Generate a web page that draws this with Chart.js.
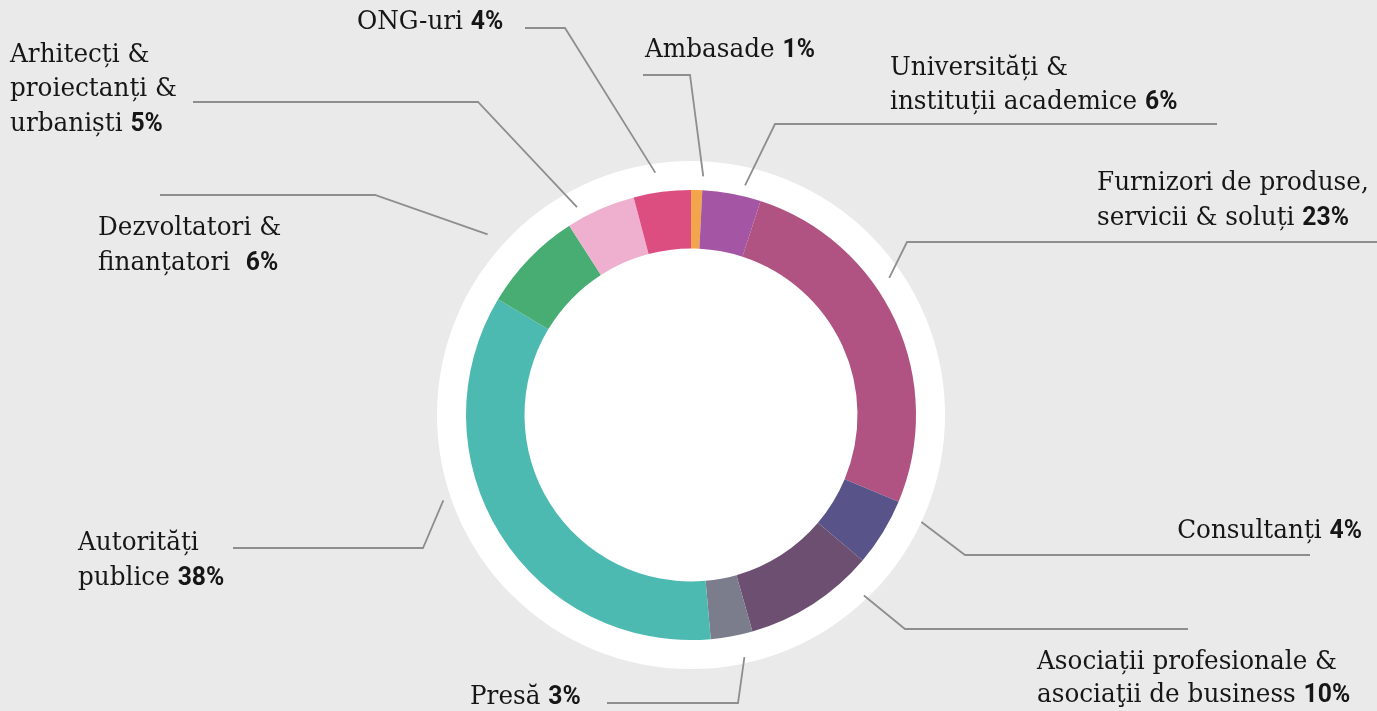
<!DOCTYPE html>
<html>
<head>
<meta charset="utf-8">
<script src="https://cdn.jsdelivr.net/npm/chart.js@4"></script>
<style>
  html, body { margin: 0; padding: 0; background: #eaeaea; }
  #wrap { width: 1377px; height: 711px; position: relative; }
</style>
</head>
<body>
<div id="wrap"><canvas id="stakeChart"></canvas></div>
<script>
// slice shares as drawn in the picture (clockwise from the top)
const categories = ['Ambasade', 'Universități & instituții academice', 'Furnizori de produse, servicii & soluți',
  'Consultanți', 'Asociații profesionale & asociații de business', 'Presă', 'Autorități publice',
  'Dezvoltatori & finanțatori', 'Arhitecți & proiectanți & urbaniști', 'ONG-uri'];
const sliceShares = [0.8, 4.2, 26.3, 4.9, 9.4, 3.0, 35.0, 7.3, 5.0, 4.1];
// percentages printed in the labels
const labelPercents = ['1%', '6%', '23%', '4%', '10%', '3%', '38%', '6%', '5%', '4%'];
const labelLines = [
  ['Ambasade '],
  ['Universități &', 'instituții academice '],
  ['Furnizori de produse,', 'servicii & soluți '],
  ['Consultanți '],
  ['Asociații profesionale &', 'asociaţii de business '],
  ['Presă '],
  ['Autorități', 'publice '],
  ['Dezvoltatori &', 'finanțatori  '],
  ['Arhitecți &', 'proiectanți &', 'urbaniști '],
  ['ONG-uri ']
];
const sliceColors = ['#f2a54a', '#a456a4', '#b05282', '#58548a', '#6d4f72', '#7b7c8c',
  '#4dbab1', '#48ad72', '#efafcf', '#dc4d80'];

// label placement: text anchor, line centres, leader elbow/end, start tweak
const labelLayout = [
  { x: 645, ys: [50], elbow: [690, 75], end: [643, 75], dAng: 1.5, dr: 14 },
  { x: 890, ys: [68, 102], elbow: [775, 124], end: [1217, 124], dAng: 2.8, dr: 11 },
  { x: 1097, ys: [183, 218], elbow: [907, 242], end: [1377, 242], dAng: -10, dr: 16 },
  { x: 1362, align: 'right', ys: [531], elbow: [965, 555], end: [1310, 555], dAng: -6.6, dr: 29 },
  { x: 1037, ys: [662, 695], elbow: [905, 629], end: [1188, 629], dAng: -11, dr: 25 },
  { x: 470, ys: [697], elbow: [738, 703], end: [607, 703], dAng: -2, dr: 23 },
  { x: 78, ys: [543, 578], elbow: [423, 548], end: [233, 548], dAng: 13, dr: 37 },
  { x: 98, ys: [228, 263], elbow: [375, 195], end: [160, 195], dAng: -2.5, dr: 47 },
  { x: 10, ys: [55, 89, 124], elbow: [478, 102], end: [193, 102], dAng: -5, dr: 12 },
  { x: 357, ys: [22], elbow: [565, 28], end: [525, 28], dAng: -1, dr: 20 }
];

const textFont = '26px "DejaVu Serif"';
const pctFont = 'bold 26px Roboto';
const squeeze = 0.95;

const leaderPlugin = {
  id: 'leaders',
  beforeDatasetsDraw(chart) {
    const arc = chart.getDatasetMeta(0).data[0];
    const ctx = chart.ctx;
    ctx.save();
    ctx.fillStyle = '#ffffff';
    ctx.beginPath();
    ctx.arc(arc.x, arc.y, arc.outerRadius * 1.129, 0, Math.PI * 2);
    ctx.fill();
    ctx.restore();
  },
  afterDatasetsDraw(chart) {
    const ctx = chart.ctx;
    const arcs = chart.getDatasetMeta(0).data;
    ctx.save();
    arcs.forEach((arc, i) => {
      const lay = labelLayout[i];
      const a = (arc.startAngle + arc.endAngle) / 2 + lay.dAng * Math.PI / 180;
      const r = arc.outerRadius + lay.dr;
      ctx.strokeStyle = '#8e8e8e';
      ctx.lineWidth = 1.8;
      ctx.beginPath();
      ctx.moveTo(arc.x + Math.cos(a) * r, arc.y + Math.sin(a) * r);
      ctx.lineTo(lay.elbow[0], lay.elbow[1]);
      ctx.lineTo(lay.end[0], lay.end[1]);
      ctx.stroke();

      const lines = labelLines[i];
      ctx.fillStyle = '#161616';
      ctx.textBaseline = 'middle';
      ctx.textAlign = 'left';
      lines.forEach((txt, j) => {
        const last = j === lines.length - 1;
        ctx.font = textFont;
        const w1 = ctx.measureText(txt).width;
        ctx.font = pctFont;
        const w2 = last ? ctx.measureText(labelPercents[i]).width : 0;
        const total = (w1 + w2) * squeeze;
        const x0 = lay.align === 'right' ? lay.x - total : lay.x;
        ctx.save();
        ctx.translate(x0, lay.ys[j]);
        ctx.scale(squeeze, 1);
        ctx.font = textFont;
        ctx.fillText(txt, 0, 0);
        if (last) {
          ctx.font = pctFont;
          ctx.fillText(labelPercents[i], w1, 0);
        }
        ctx.restore();
      });
    });
    ctx.restore();
  }
};

const ctx = document.getElementById('stakeChart').getContext('2d');
const stakeChart = new Chart(ctx, {
  type: 'doughnut',
  data: {
    labels: categories,
    datasets: [{
      data: sliceShares,
      backgroundColor: sliceColors,
      borderWidth: 0,
      offset: 0,
      hoverOffset: 0
    }]
  },
  options: {
    responsive: true,
    maintainAspectRatio: false,
    animation: false,
    cutout: '74%',
    rotation: 0,
    layout: {
      padding: { left: 466, right: 461, top: 190, bottom: 71 }
    },
    plugins: {
      legend: { display: false },
      tooltip: { enabled: false }
    }
  },
  plugins: [leaderPlugin]
});
</script>
</body>
</html>
